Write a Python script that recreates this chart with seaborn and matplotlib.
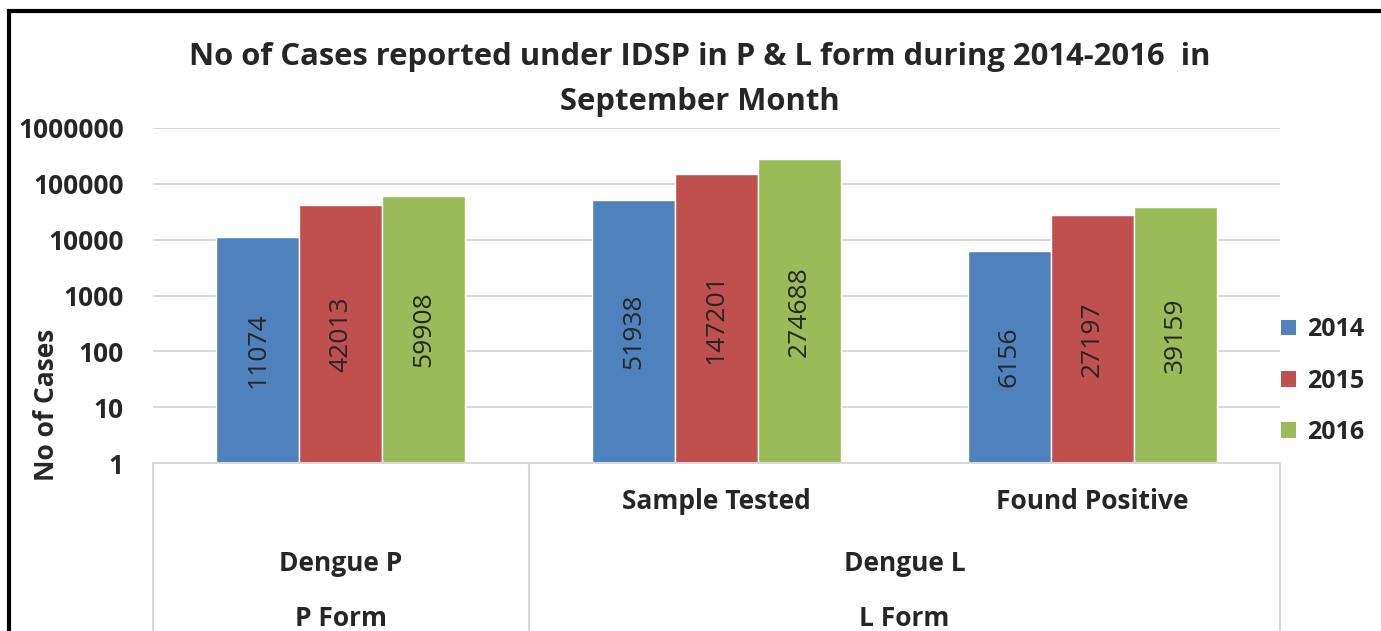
import numpy as np
import pandas as pd
import matplotlib
matplotlib.use('Agg')
import matplotlib.pyplot as plt
import seaborn as sns
from matplotlib.patches import Rectangle, Patch
from matplotlib.ticker import FixedLocator, FuncFormatter

sns.set_style('white')
plt.rcParams['font.family'] = ['Open Sans', 'DejaVu Sans']

# data
categories = ['Dengue P', 'Sample Tested', 'Found Positive']
years = ['2014', '2015', '2016']
cases_2014 = [11074, 51938, 6156]
cases_2015 = [42013, 147201, 27197]
cases_2016 = [59908, 274688, 39159]
level1 = ['', 'Sample Tested', 'Found Positive']
level2 = ['Dengue P', 'Dengue L']
level3 = ['P Form', 'L Form']
colors = ['#4F81BD', '#C0504D', '#9BBB59']

df = pd.DataFrame({
    'cat': categories * 3,
    'year': [y for y in years for _ in categories],
    'cases': cases_2014 + cases_2015 + cases_2016,
})

W, H = 1381, 631
fig = plt.figure(figsize=(W / 100, H / 100), dpi=100)
ax = fig.add_axes([153 / W, 1 - 463 / H, (1280 - 153) / W, (463 - 128) / H])

sns.barplot(data=df, x='cat', y='cases', hue='year', order=categories,
            hue_order=years, palette=colors, width=0.663, saturation=1,
            ax=ax, legend=False)
ax.set_yscale('log')
ax.set_ylim(1, 1e6)
ax.set_xlim(-0.5, 2.5)

fs = 19
ax.yaxis.set_major_locator(FixedLocator([10 ** i for i in range(7)]))
ax.yaxis.set_minor_locator(FixedLocator([]))
ax.yaxis.set_major_formatter(FuncFormatter(lambda v, p: '%d' % round(v)))
ax.tick_params(axis='y', length=0, pad=21, labelsize=fs)
for t in ax.get_yticklabels():
    t.set_fontweight('bold')
ax.set_xticks([])
ax.set_xlabel('')
ax.set_ylabel('')
ax.grid(axis='y', color='#D9D9D9', linewidth=1.5)
ax.set_axisbelow(True)
for s in ax.spines.values():
    s.set_visible(False)

# value labels in the middle of each bar (log middle)
for p in ax.patches:
    h = p.get_height()
    if h <= 0:
        continue
    ax.text(p.get_x() + p.get_width() / 2, np.sqrt(h), '%d' % round(h),
            rotation=90, ha='center', va='center', fontsize=fs, fontweight='medium')

# category table under the axis
grey = '#D9D9D9'
ax.plot([0, 1], [0, 0], transform=ax.transAxes, color=grey, lw=1.5, clip_on=False)
for xa in [0, 1 / 3, 1]:
    ax.plot([xa, xa], [0, -0.6], transform=ax.transAxes, color=grey, lw=1.5, clip_on=False)

tr = ax.get_xaxis_transform()
for i, lab in enumerate(level1):
    ax.text(i, -0.115, lab, transform=tr, ha='center', va='center',
            fontsize=fs, fontweight='bold')
ax.text(0, -0.3, level2[0], transform=tr, ha='center', va='center', fontsize=fs, fontweight='bold')
ax.text(1.5, -0.3, level2[1], transform=tr, ha='center', va='center', fontsize=fs, fontweight='bold')
ax.text(0, -0.465, level3[0], transform=tr, ha='center', va='center', fontsize=fs, fontweight='bold')
ax.text(1.5, -0.465, level3[1], transform=tr, ha='center', va='center', fontsize=fs, fontweight='bold')

fig.text(700 / W, 1 - 57 / H, 'No of Cases reported under IDSP in P & L form during 2014-2016  in',
         ha='center', va='center', fontsize=22.3, fontweight='bold')
fig.text(700 / W, 1 - 102 / H, 'September Month',
         ha='center', va='center', fontsize=22.3, fontweight='bold')
fig.text(47 / W, 1 - 405 / H, 'No of Cases', rotation=90, ha='center', va='center',
         fontsize=fs, fontweight='bold')

handles = [Patch(facecolor=c, edgecolor='none') for c in colors]
fig.legend(handles, years, loc='center left', bbox_to_anchor=(1281 / W, 1 - 381 / H),
           frameon=False, handlelength=0.6, handleheight=0.6, handletextpad=0.45,
           labelspacing=1.05, borderpad=0, borderaxespad=0,
           prop={'size': 18, 'weight': 'bold'})

# outer frame (left and top visible)
fig.patches.append(Rectangle((9 / W, -0.2), 1.5, 1.2 - 11 / H, transform=fig.transFigure,
                             fill=False, edgecolor='black', linewidth=3))

fig.savefig('out.png', dpi=100)
